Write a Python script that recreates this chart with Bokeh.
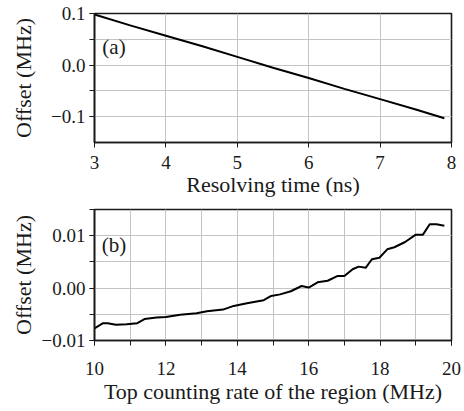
from bokeh.plotting import figure
from bokeh.layouts import column
from bokeh.models import Range1d, SingleIntervalTicker, CustomJSTickFormatter, Label
from bokeh.embed import file_html
from bokeh.resources import INLINE

# Panel (a): offset vs resolving time
a_x = [3.0, 3.5, 4.0, 4.5, 5.0, 5.5, 6.0, 6.5, 7.0, 7.5, 7.9]
a_y = [0.098, 0.077, 0.057, 0.037, 0.016, -0.005, -0.025, -0.046, -0.066, -0.086, -0.103]

# Panel (b): offset vs top counting rate of the region
b_x = [10.0, 10.24, 10.37, 10.6, 10.9, 11.2, 11.4, 11.74, 12.0, 12.4, 12.86, 13.15,
       13.6, 13.9, 14.27, 14.74, 14.95, 15.2, 15.5, 15.8, 16.0, 16.25, 16.53, 16.8,
       17.0, 17.23, 17.4, 17.6, 17.77, 17.98, 18.2, 18.4, 18.7, 19.0, 19.2, 19.39,
       19.58, 19.8]
b_y = [-0.0077, -0.0067, -0.0067, -0.0070, -0.0069, -0.0067, -0.0059, -0.0056,
       -0.0055, -0.0051, -0.0048, -0.0044, -0.0041, -0.0034, -0.0029, -0.0023,
       -0.0015, -0.0012, -0.0006, 0.0004, 0.0001, 0.0011, 0.0014, 0.0023, 0.0023,
       0.0036, 0.0041, 0.0039, 0.0055, 0.0058, 0.0074, 0.0078, 0.0088, 0.0102,
       0.0102, 0.0122, 0.0122, 0.0119]

FONT = "Liberation Serif"
GRID = "#c4c4c4"
INK = "#1a1a1a"


def fmt(dec):
    return CustomJSTickFormatter(code="""
        const v = Math.abs(tick) < 1e-12 ? 0 : tick;
        const s = Math.abs(v).toFixed(%d);
        return (v < 0 ? "\u2212" : "") + s;
    """ % dec)


def style(p, xlabel, ylabel):
    p.outline_line_color = INK
    p.outline_line_width = 1.6
    p.background_fill_color = "white"
    p.border_fill_color = "white"
    for ax in (p.xaxis[0], p.yaxis[0]):
        ax.axis_line_color = INK
        ax.axis_line_width = 1.6
        ax.major_tick_line_color = INK
        ax.minor_tick_line_color = INK
        ax.major_tick_in = 0
        ax.major_tick_out = 5
        ax.minor_tick_in = 0
        ax.minor_tick_out = 5
        ax.major_label_text_font = FONT
        ax.major_label_text_font_size = "19px"
        ax.major_label_text_color = INK
        ax.axis_label_text_font = FONT
        ax.axis_label_text_font_style = "normal"
        ax.axis_label_text_font_size = "22px"
        ax.axis_label_text_color = INK
    p.xaxis[0].axis_label = xlabel
    p.yaxis[0].axis_label = ylabel
    p.yaxis[0].major_label_standoff = 4
    for g in (p.xgrid[0], p.ygrid[0]):
        g.grid_line_color = GRID
        g.grid_line_width = 1
        g.minor_grid_line_color = GRID
        g.minor_grid_line_width = 1


# ---------- panel (a) ----------
p1 = figure(width=464, height=200, output_backend="svg", toolbar_location=None,
            x_range=Range1d(3, 8), y_range=Range1d(-0.15, 0.1),
            min_border_left=94, min_border_right=13, min_border_top=13,
            min_border_bottom=58)
p1.xaxis[0].ticker = SingleIntervalTicker(interval=1, num_minor_ticks=0)
p1.yaxis[0].ticker = SingleIntervalTicker(interval=0.1, num_minor_ticks=2)
p1.yaxis[0].formatter = fmt(1)
style(p1, "Resolving time (ns)", "Offset (MHz)")
p1.xaxis[0].major_label_standoff = 8
p1.xaxis[0].axis_label_standoff = 0
p1.yaxis[0].axis_label_standoff = 12
p1.line(a_x, a_y, line_color="black", line_width=2)
p1.add_layout(Label(x=3.11, y=0.036, text="(a)", text_font=FONT,
                    text_font_size="21px", text_baseline="middle",
                    text_color=INK))

# ---------- panel (b) ----------
p2 = figure(width=464, height=211, output_backend="svg", toolbar_location=None,
            x_range=Range1d(10, 20), y_range=Range1d(-0.01, 0.015),
            min_border_left=94, min_border_right=13, min_border_top=9,
            min_border_bottom=71)
p2.xaxis[0].ticker = SingleIntervalTicker(interval=2, num_minor_ticks=2)
p2.yaxis[0].ticker = SingleIntervalTicker(interval=0.01, num_minor_ticks=2)
p2.yaxis[0].formatter = fmt(2)
style(p2, "Top counting rate of the region (MHz)", "Offset (MHz)")
p2.xaxis[0].major_label_standoff = 16
p2.xaxis[0].axis_label_standoff = 1
p2.yaxis[0].axis_label_standoff = 3
p2.line(b_x, b_y, line_color="black", line_width=2)
p2.add_layout(Label(x=10.2, y=0.0082, text="(b)", text_font=FONT,
                    text_font_size="21px", text_baseline="middle",
                    text_color=INK))

layout = column(p1, p2, spacing=0)
open("out.html", "w").write(file_html(layout, INLINE))
